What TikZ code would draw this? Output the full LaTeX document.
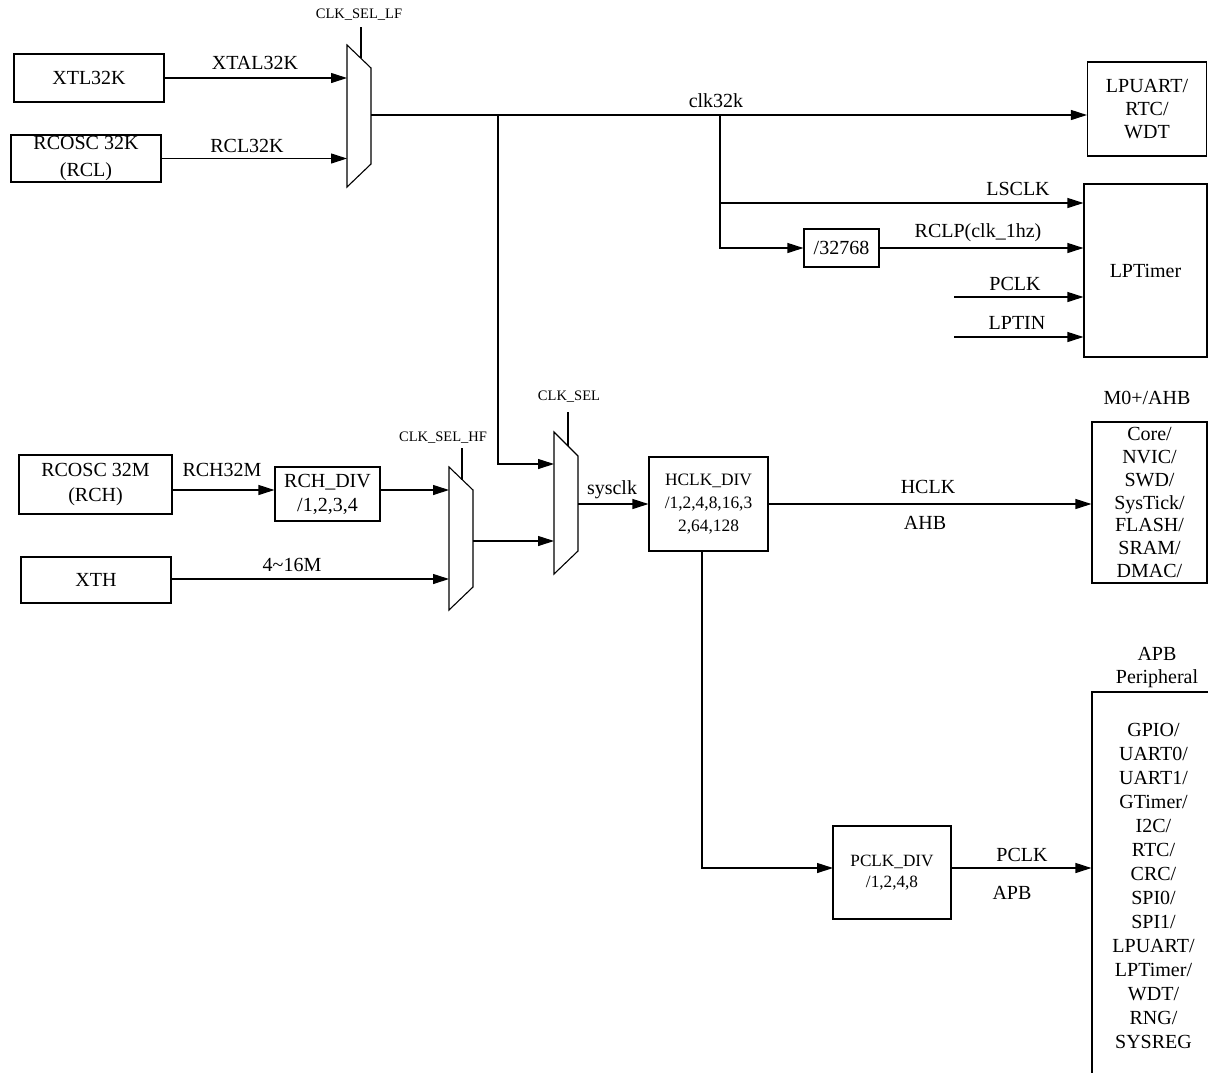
\documentclass[tikz,border=0pt]{standalone}
\usepackage{fontspec}
\setmainfont{Liberation Serif}
\usetikzlibrary{arrows.meta}
\begin{document}
\begin{tikzpicture}[x={(1pt,0)}, y={(0,-1pt)},
  box/.style={draw, line width=1.1pt, align=center, inner sep=0pt, font=\fontsize{20pt}{23pt}\selectfont},
  lbl/.style={font=\fontsize{20pt}{23pt}\selectfont, inner sep=0pt},
  sel/.style={font=\fontsize{14.5pt}{16pt}\selectfont, inner sep=0pt},
  wire/.style={line width=1.1pt},
  arr/.style={wire, -{Triangle[length=16pt,width=10pt]}},
  muxs/.style={draw, line width=1.1pt}]
\useasboundingbox (0,0) rectangle (1208,1072);
\clip (0,0) rectangle (1208,1072);

% ---- boxes ----
\node[box, minimum width=150pt, minimum height=48pt] (xtl) at (89,78) {XTL32K};
\node[box, minimum width=150pt, minimum height=47pt, font=\fontsize{20pt}{27pt}\selectfont] (rcl) at (86,158.5) {\raisebox{-3pt}{RCOSC 32K}\\\raisebox{-3pt}{(RCL)}};
\node[box, minimum width=153pt, minimum height=59pt, font=\fontsize{20pt}{25.5pt}\selectfont] (rch) at (95.5,484.5) {\raisebox{-2pt}{RCOSC 32M}\\\raisebox{-2pt}{(RCH)}};
\node[box, minimum width=105pt, minimum height=54pt, font=\fontsize{20pt}{24pt}\selectfont] (rchdiv) at (327.5,494) {RCH\_DIV\\/1,2,3,4};
\node[box, minimum width=150pt, minimum height=46pt] (xth) at (96,580) {XTH};
\node[box, minimum width=75pt, minimum height=38pt] (d32) at (841.5,248) {/32768};
\node[box, minimum width=119pt, minimum height=94pt] (lpuart) at (1147,109) {LPUART/\\RTC/\\WDT};
\node[box, minimum width=123pt, minimum height=173pt] (lpt) at (1145.5,270.5) {LPTimer};
\node[box, minimum width=119pt, minimum height=94pt, font=\fontsize{17.4pt}{23.3pt}\selectfont] (hclk) at (708.5,504) {HCLK\_DIV\\/1,2,4,8,16,3\\2,64,128};
\node[box, minimum width=118pt, minimum height=93pt, font=\fontsize{17.2pt}{21.7pt}\selectfont] (pclkdiv) at (892,872.5) {PCLK\_DIV\\/1,2,4,8};
\node[box, minimum width=115pt, minimum height=161pt, font=\fontsize{20pt}{22.7pt}\selectfont] (ahb) at (1149.5,502.5) {Core/\\NVIC/\\SWD/\\SysTick/\\FLASH/\\SRAM/\\DMAC/};
\node[box, minimum width=123pt, minimum height=388pt, font=\fontsize{20pt}{24pt}\selectfont] (apb) at (1153.5,886) {GPIO/\\UART0/\\UART1/\\GTimer/\\I2C/\\RTC/\\CRC/\\SPI0/\\SPI1/\\LPUART/\\LPTimer/\\WDT/\\RNG/\\SYSREG};

% ---- muxes ----
\coordinate (lfA) at (347,45); \coordinate (lfB) at (371,68);
\coordinate (lfC) at (371,164); \coordinate (lfD) at (347,187);
\draw[muxs] (lfA) -- (lfB) -- (lfC) -- (lfD) -- cycle;
\coordinate (lf-in1) at (347,78); \coordinate (lf-in2) at (347,158.5);
\coordinate (lf-out) at (371,115);
\coordinate (lf-sel) at (361,58); \coordinate (lf-seltop) at (361,27);
\draw[wire] (lf-sel) -- (lf-seltop);
\node[sel] (lf-lab) at (359,15) {CLK\_SEL\_LF};

\coordinate (hfA) at (449,467); \coordinate (hfB) at (473,490);
\coordinate (hfC) at (473,587); \coordinate (hfD) at (449,610);
\draw[muxs] (hfA) -- (hfB) -- (hfC) -- (hfD) -- cycle;
\coordinate (hf-in1) at (449,490); \coordinate (hf-in2) at (449,579);
\coordinate (hf-out) at (473,541);
\coordinate (hf-sel) at (462,479.5); \coordinate (hf-seltop) at (462,448);
\draw[wire] (hf-sel) -- (hf-seltop);
\node[sel] (hf-lab) at (443,438) {CLK\_SEL\_HF};

\coordinate (csA) at (554,432); \coordinate (csB) at (578,456);
\coordinate (csC) at (578,551); \coordinate (csD) at (554,574);
\draw[muxs] (csA) -- (csB) -- (csC) -- (csD) -- cycle;
\coordinate (cs-in1) at (554,464); \coordinate (cs-in2) at (554,541);
\coordinate (cs-out) at (578,504);
\coordinate (cs-sel) at (568,446); \coordinate (cs-seltop) at (568,412);
\draw[wire] (cs-sel) -- (cs-seltop);
\node[sel] (cs-lab) at (569,397) {CLK\_SEL};

% ---- connectors: low-frequency ----
\draw[arr] (xtl.east) -- (lf-in1);
\draw[arr] (rcl.east) -- (lf-in2);
\node[lbl] (l-xtal) at (255,63) {XTAL32K};
\node[lbl] (l-rcl) at (247,146) {RCL32K};

\draw[arr] (lf-out) -- (lf-out -| lpuart.west);
\node[lbl] (l-clk32k) at (716,101) {clk32k};

\coordinate (j1) at (498,115);
\coordinate (j2) at (720,115);
\coordinate (j3) at (720,203);
\draw[arr] (j1) |- (cs-in1);
\draw[arr] (j2) |- (d32.west);
\draw[arr] (j3) -- (j3 -| lpt.west);
\draw[arr] (d32.east) -- (d32.east -| lpt.west);
\coordinate (pclk-src) at (954,297);
\coordinate (lptin-src) at (954,337);
\draw[arr] (pclk-src) -- (pclk-src -| lpt.west);
\draw[arr] (lptin-src) -- (lptin-src -| lpt.west);
\node[lbl] (l-lsclk) at (1018,189) {LSCLK};
\node[lbl] (l-rclp) at (978,233) {RCLP(clk\_1hz)};
\node[lbl] (l-pclk1) at (1015,284) {PCLK};
\node[lbl] (l-lptin) at (1017,323) {LPTIN};

% ---- connectors: high-frequency ----
\draw[arr] (rch.east |- hf-in1) -- (rchdiv.west |- hf-in1);
\draw[arr] (rchdiv.east |- hf-in1) -- (hf-in1);
\draw[arr] (xth.east |- hf-in2) -- (hf-in2);
\node[lbl] (l-rch) at (222,470) {RCH32M};
\node[lbl] (l-xth) at (292,565) {4\textasciitilde16M};

\draw[arr] (hf-out) -- (cs-in2);
\draw[arr] (cs-out) -- (hclk.west |- cs-out);
\node[lbl] (l-sysclk) at (612,490) {sysclk};

\draw[arr] (hclk.east) -- (hclk.east -| ahb.west);
\node[lbl] (l-hclk) at (928,487) {HCLK};
\node[lbl] (l-ahb) at (925,523) {AHB};
\node[lbl] (l-m0) at (1147,398) {M0+/AHB};

\coordinate (hv) at (702,551);
\coordinate (pin) at (833,868);
\draw[arr] (hv) |- (pin);
\draw[arr] (pclkdiv.east |- pin) -- (apb.west |- pin);
\node[lbl] (l-pclk2) at (1022,855) {PCLK};
\node[lbl] (l-apb) at (1012,893) {APB};
\node[lbl, align=center, font=\fontsize{20pt}{23pt}\selectfont] (l-apbp) at (1157,668) {APB\\Peripheral};
\end{tikzpicture}
\end{document}
